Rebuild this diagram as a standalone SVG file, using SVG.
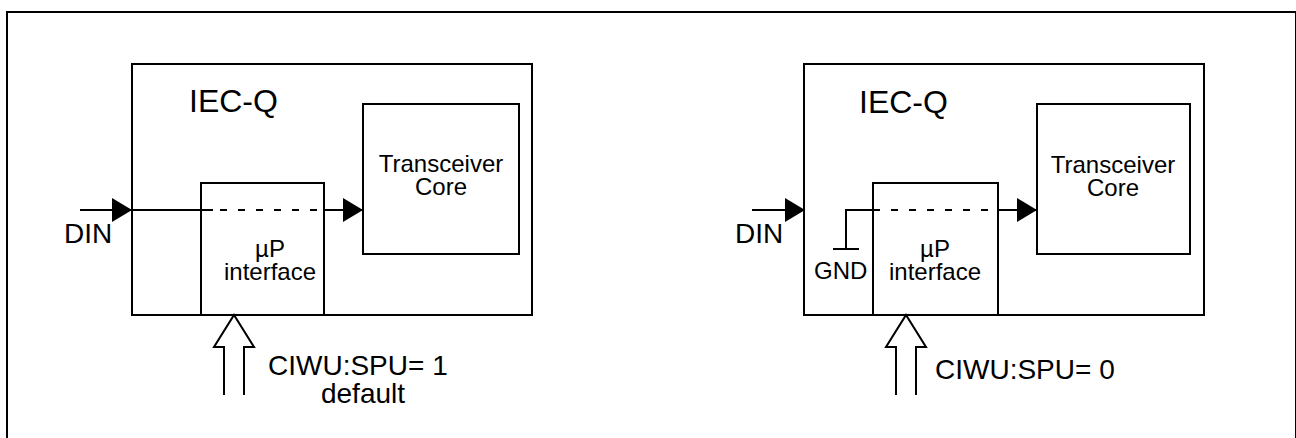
<svg xmlns="http://www.w3.org/2000/svg" width="1296" height="438" viewBox="0 0 1296 438">
<style>
.box{fill:#fff;stroke:#000;stroke-width:2}
.ln{fill:none;stroke:#000;stroke-width:2}
.dash{fill:none;stroke:#000;stroke-width:2;stroke-dasharray:7 11}
.hol{fill:#fff;stroke:#000;stroke-width:2;stroke-linejoin:miter}
text{font-family:"Liberation Sans",Arial,sans-serif;fill:#000}
.t32{font-size:32px}
.t28{font-size:28px}
.t25{font-size:24px}
</style>
<defs>
<marker id="arr" markerWidth="20" markerHeight="24" refX="20" refY="12" orient="auto" markerUnits="userSpaceOnUse">
<path d="M0,0 L20,12 L0,24 Z" fill="#000"/>
</marker>
</defs>
<rect id="frame" x="7" y="12" width="1289" height="440" fill="none" stroke="#000" stroke-width="2"/>

<g id="left-iecq">
<rect class="box" x="132" y="64" width="400" height="251"/>
<text class="t32" x="189" y="112">IEC-Q</text>
</g>
<g id="left-transceiver">
<rect class="box" x="363" y="104" width="156" height="150"/>
<text class="t25" x="441" y="172" text-anchor="middle">Transceiver</text>
<text class="t25" x="441" y="195" text-anchor="middle">Core</text>
</g>
<g id="left-up">
<rect class="box" x="201" y="183" width="123" height="132"/>
<text class="t25" x="270" y="257" text-anchor="middle">µP</text>
<text class="t25" x="270" y="280" text-anchor="middle">interface</text>
</g>
<g id="left-din"><text class="t28" x="64" y="243">DIN</text></g>
<g id="left-ciwu">
<text class="t28" x="268" y="375">CIWU:SPU= 1</text>
<text class="t28" x="363" y="403" text-anchor="middle">default</text>
</g>

<g id="right-iecq">
<rect class="box" x="804" y="64" width="400" height="251"/>
<text class="t32" x="859" y="113">IEC-Q</text>
</g>
<g id="right-transceiver">
<rect class="box" x="1037" y="104" width="153" height="150"/>
<text class="t25" x="1113" y="173" text-anchor="middle">Transceiver</text>
<text class="t25" x="1113" y="196" text-anchor="middle">Core</text>
</g>
<g id="right-up">
<rect class="box" x="873" y="183" width="125" height="132"/>
<text class="t25" x="935" y="257" text-anchor="middle">µP</text>
<text class="t25" x="935" y="280" text-anchor="middle">interface</text>
</g>
<g id="right-din"><text class="t28" x="735" y="243">DIN</text></g>
<g id="right-gnd"><text class="t25" x="814" y="279">GND</text></g>
<g id="right-ciwu"><text class="t28" x="935" y="379">CIWU:SPU= 0</text></g>

<g id="connectors">
<line class="ln" x1="80" y1="210" x2="132" y2="210" marker-end="url(#arr)"/>
<line class="ln" x1="132" y1="210" x2="213" y2="210"/>
<line class="dash" x1="220" y1="210" x2="318" y2="210"/>
<line class="ln" x1="324" y1="210" x2="363" y2="210" marker-end="url(#arr)"/>
<path class="hol" d="M224,395 V347 H214 L234,315 L254,347 H244 V395"/>

<line class="ln" x1="752" y1="210" x2="805" y2="210" marker-end="url(#arr)"/>
<path class="ln" d="M846,249 V210 H880"/>
<line class="ln" x1="833" y1="249" x2="859" y2="249"/>
<line class="dash" x1="891" y1="210" x2="991" y2="210"/>
<line class="ln" x1="998" y1="210" x2="1037" y2="210" marker-end="url(#arr)"/>
<path class="hol" d="M896,395 V347 H886 L906,315 L926,347 H916 V395"/>
</g>
</svg>
